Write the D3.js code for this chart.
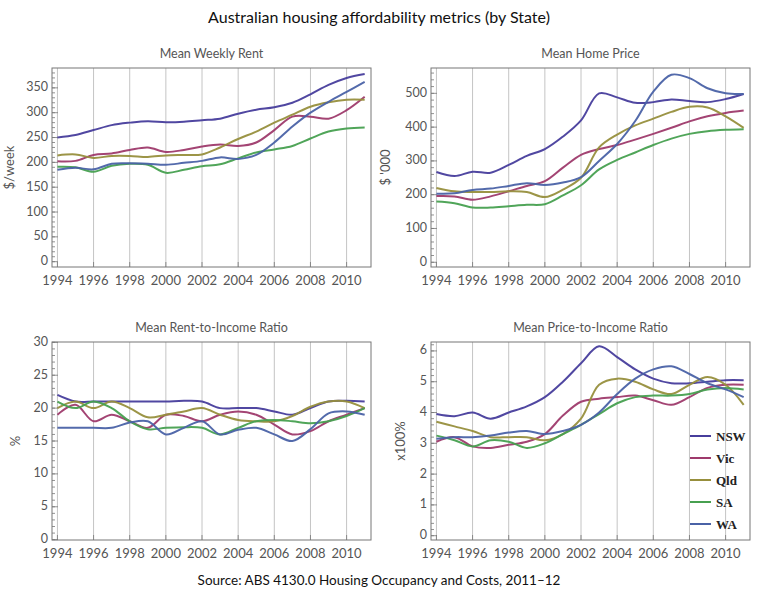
<!DOCTYPE html>
<html>
<head>
<meta charset="utf-8">
<script src="https://cdn.jsdelivr.net/npm/d3@7"></script>
<style>
  body { margin: 0; background: #fff; }
  svg text { font-family: "Lato", "DejaVu Sans", sans-serif; }
</style>
</head>
<body>
<svg id="chart" width="758" height="601"></svg>
<script>
var years = d3.range(1994, 2012);
var states = ["NSW", "Vic", "Qld", "SA", "WA"];
var colors = ["#473d9c", "#9e3a6c", "#978f3d", "#47a050", "#4a62a6"];

// Mean weekly rent ($/week)
var rentNSW = [250, 255, 265, 275, 280, 283, 281, 282, 285, 288, 298, 306, 311, 320, 337, 356, 370, 378];
var rentVic = [202, 203, 215, 218, 225, 230, 221, 225, 232, 236, 233, 240, 265, 292, 292, 288, 305, 332];
var rentQld = [214, 216, 209, 213, 213, 211, 214, 215, 216, 230, 247, 262, 280, 296, 312, 321, 326, 326];
var rentSA  = [191, 190, 181, 193, 197, 195, 179, 185, 192, 196, 208, 220, 226, 233, 248, 262, 268, 270];
var rentWA  = [185, 189, 186, 197, 198, 197, 195, 199, 203, 210, 207, 215, 240, 272, 300, 322, 342, 362];

// Mean home price ($ '000)
var priceNSW = [267, 255, 268, 265, 288, 315, 335, 372, 420, 500, 488, 472, 474, 482, 477, 474, 483, 498];
var priceVic = [196, 195, 185, 195, 210, 226, 240, 280, 318, 335, 347, 363, 380, 398, 417, 432, 442, 449];
var priceQld = [220, 210, 208, 208, 210, 208, 193, 215, 250, 340, 378, 405, 425, 445, 460, 458, 432, 398];
var priceSA  = [180, 175, 162, 162, 166, 170, 172, 198, 228, 275, 303, 325, 347, 366, 380, 388, 392, 394];
var priceWA  = [203, 204, 214, 218, 226, 234, 229, 236, 252, 300, 350, 418, 505, 555, 545, 515, 500, 498];

// Mean rent-to-income ratio (%)
var rtiNSW = [22, 21, 21, 21, 21, 21, 21, 21.1, 21, 20, 20, 20, 19.5, 19, 20, 21, 21.1, 21];
var rtiVic = [19, 20.5, 18, 19, 18, 17, 19, 18.8, 18, 19, 19.5, 19, 17.5, 16, 16.5, 18, 19, 20];
var rtiQld = [20, 21, 20, 21, 20, 18.6, 19, 19.5, 20, 19, 18.2, 18, 18, 18.8, 20.2, 21, 21, 20];
var rtiSA  = [21, 20, 21, 20, 18, 16.8, 17, 17.1, 17, 16, 17, 18, 18.2, 18, 17.7, 18, 18.8, 20];
var rtiWA  = [17, 17, 17, 17, 17.8, 18, 16, 17, 18, 16, 16.7, 17, 16, 15, 16.8, 19.2, 19.5, 19];

// Mean price-to-income ratio (x100%)
var ptiNSW = [3.95, 3.88, 4.0, 3.8, 4.0, 4.2, 4.5, 5.0, 5.6, 6.15, 5.8, 5.4, 5.1, 4.95, 4.95, 5.0, 5.05, 5.05];
var ptiVic = [3.05, 3.2, 2.9, 2.85, 2.95, 3.05, 3.3, 3.9, 4.35, 4.45, 4.5, 4.55, 4.4, 4.25, 4.5, 4.8, 4.9, 4.9];
var ptiQld = [3.7, 3.55, 3.4, 3.2, 3.2, 3.2, 3.1, 3.3, 3.8, 4.9, 5.1, 5.0, 4.75, 4.6, 4.9, 5.15, 4.9, 4.25];
var ptiSA  = [3.25, 3.1, 2.9, 3.1, 3.05, 2.85, 3.0, 3.3, 3.6, 3.95, 4.3, 4.5, 4.55, 4.55, 4.6, 4.75, 4.8, 4.75];
var ptiWA  = [3.15, 3.2, 3.2, 3.25, 3.35, 3.4, 3.3, 3.4, 3.6, 4.0, 4.6, 5.1, 5.4, 5.5, 5.25, 4.95, 4.75, 4.5];

var xTicks = [1994, 1996, 1998, 2000, 2002, 2004, 2006, 2008, 2010];

var panels = [
  { title: "Mean Weekly Rent", ylabel: "$/week", series: [rentNSW, rentVic, rentQld, rentSA, rentWA],
    left: 52, right: 371, top: 68, bottom: 267, ymin: -10.7, ymax: 390, ticks: d3.range(0, 351, 50), minor: 10, labelX: 14 },
  { title: "Mean Home Price", ylabel: "$ '000", series: [priceNSW, priceVic, priceQld, priceSA, priceWA],
    left: 431, right: 750, top: 68, bottom: 267, ymin: -14, ymax: 575, ticks: d3.range(0, 501, 100), minor: 20, labelX: 390 },
  { title: "Mean Rent-to-Income Ratio", ylabel: "%", series: [rtiNSW, rtiVic, rtiQld, rtiSA, rtiWA],
    left: 52, right: 371, top: 342, bottom: 540, ymin: -0.05, ymax: 30.05, ticks: d3.range(0, 31, 5), minor: 1, labelX: 20 },
  { title: "Mean Price-to-Income Ratio", ylabel: "x100%", series: [ptiNSW, ptiVic, ptiQld, ptiSA, ptiWA],
    left: 431, right: 750, top: 342, bottom: 540, ymin: -0.14, ymax: 6.29, ticks: d3.range(0, 7, 1), minor: 0.2, labelX: 405 }
];

var svg = d3.select("#chart");

svg.append("text")
  .attr("x", 379).attr("y", 23)
  .attr("text-anchor", "middle")
  .attr("font-size", "16px")
  .attr("fill", "#111")
  .text("Australian housing affordability metrics (by State)");

svg.append("text")
  .attr("x", 379).attr("y", 585)
  .attr("text-anchor", "middle")
  .attr("font-size", "13.5px")
  .attr("fill", "#111")
  .text("Source: ABS 4130.0 Housing Occupancy and Costs, 2011\u201312");

panels.forEach(function(p) {
  var g = svg.append("g");
  var x = d3.scaleLinear().domain([1993.7, 2011.35]).range([p.left, p.right]);
  var y = d3.scaleLinear().domain([p.ymin, p.ymax]).range([p.bottom, p.top]);

  // grid lines
  g.selectAll(".grid").data(xTicks).enter().append("line")
    .attr("x1", function(d) { return x(d); }).attr("x2", function(d) { return x(d); })
    .attr("y1", p.top).attr("y2", p.bottom)
    .attr("stroke", "#c4c4c4").attr("stroke-width", 1);

  // minor y ticks
  var minors = d3.range(0, p.ymax, p.minor).filter(function(v) { return v <= p.ymax; });
  g.selectAll(".minor").data(minors).enter().append("line")
    .attr("x1", p.left).attr("x2", p.left + 3)
    .attr("y1", function(d) { return y(d); }).attr("y2", function(d) { return y(d); })
    .attr("stroke", "#777").attr("stroke-width", 0.8);
  g.selectAll(".major").data(p.ticks).enter().append("line")
    .attr("x1", p.left).attr("x2", p.left + 6)
    .attr("y1", function(d) { return y(d); }).attr("y2", function(d) { return y(d); })
    .attr("stroke", "#777").attr("stroke-width", 0.8);

  // x ticks
  g.selectAll(".xmajor").data(xTicks).enter().append("line")
    .attr("x1", function(d) { return x(d); }).attr("x2", function(d) { return x(d); })
    .attr("y1", p.bottom).attr("y2", p.bottom - 5)
    .attr("stroke", "#777").attr("stroke-width", 0.8);

  // y tick labels
  g.selectAll(".ylab").data(p.ticks).enter().append("text")
    .attr("x", p.left - 4)
    .attr("y", function(d) { return y(d) + 3.5; })
    .attr("text-anchor", "end")
    .attr("font-size", "12.5px")
    .attr("fill", "#555")
    .text(function(d) { return d; });

  // x tick labels
  g.selectAll(".xlab").data(xTicks).enter().append("text")
    .attr("x", function(d) { return x(d); })
    .attr("y", p.bottom + 18)
    .attr("text-anchor", "middle")
    .attr("font-size", "13px")
    .attr("fill", "#555")
    .text(function(d) { return d; });

  // panel title
  g.append("text")
    .attr("x", (p.left + p.right) / 2).attr("y", p.top - 10)
    .attr("text-anchor", "middle")
    .attr("font-size", "12.5px")
    .attr("fill", "#555")
    .text(p.title);

  // y label
  g.append("text")
    .attr("transform", "translate(" + p.labelX + "," + ((p.top + p.bottom) / 2) + ") rotate(-90)")
    .attr("text-anchor", "middle")
    .attr("font-size", "13px")
    .attr("fill", "#555")
    .text(p.ylabel);

  // lines
  var line = d3.line()
    .x(function(d, i) { return x(years[i]); })
    .y(function(d) { return y(d); })
    .curve(d3.curveCatmullRom.alpha(0.5));
  p.series.forEach(function(s, k) {
    g.append("path")
      .attr("d", line(s))
      .attr("fill", "none")
      .attr("stroke", colors[k])
      .attr("stroke-width", 2)
      .attr("stroke-opacity", 0.95);
  });

  // frame
  g.append("rect")
    .attr("x", p.left).attr("y", p.top)
    .attr("width", p.right - p.left).attr("height", p.bottom - p.top)
    .attr("fill", "none").attr("stroke", "#777").attr("stroke-width", 1);
});

// legend
var legend = svg.append("g");
states.forEach(function(s, k) {
  var ly = 436 + k * 22;
  legend.append("line")
    .attr("x1", 690).attr("x2", 711)
    .attr("y1", ly).attr("y2", ly)
    .attr("stroke", colors[k]).attr("stroke-width", 2);
  legend.append("text")
    .attr("x", 716).attr("y", ly + 4.5)
    .attr("font-weight", "bold")
    .attr("font-size", "13px")
    .attr("fill", "#222")
    .style("font-family", "'Liberation Serif', serif")
    .text(s);
});
</script>
</body>
</html>
